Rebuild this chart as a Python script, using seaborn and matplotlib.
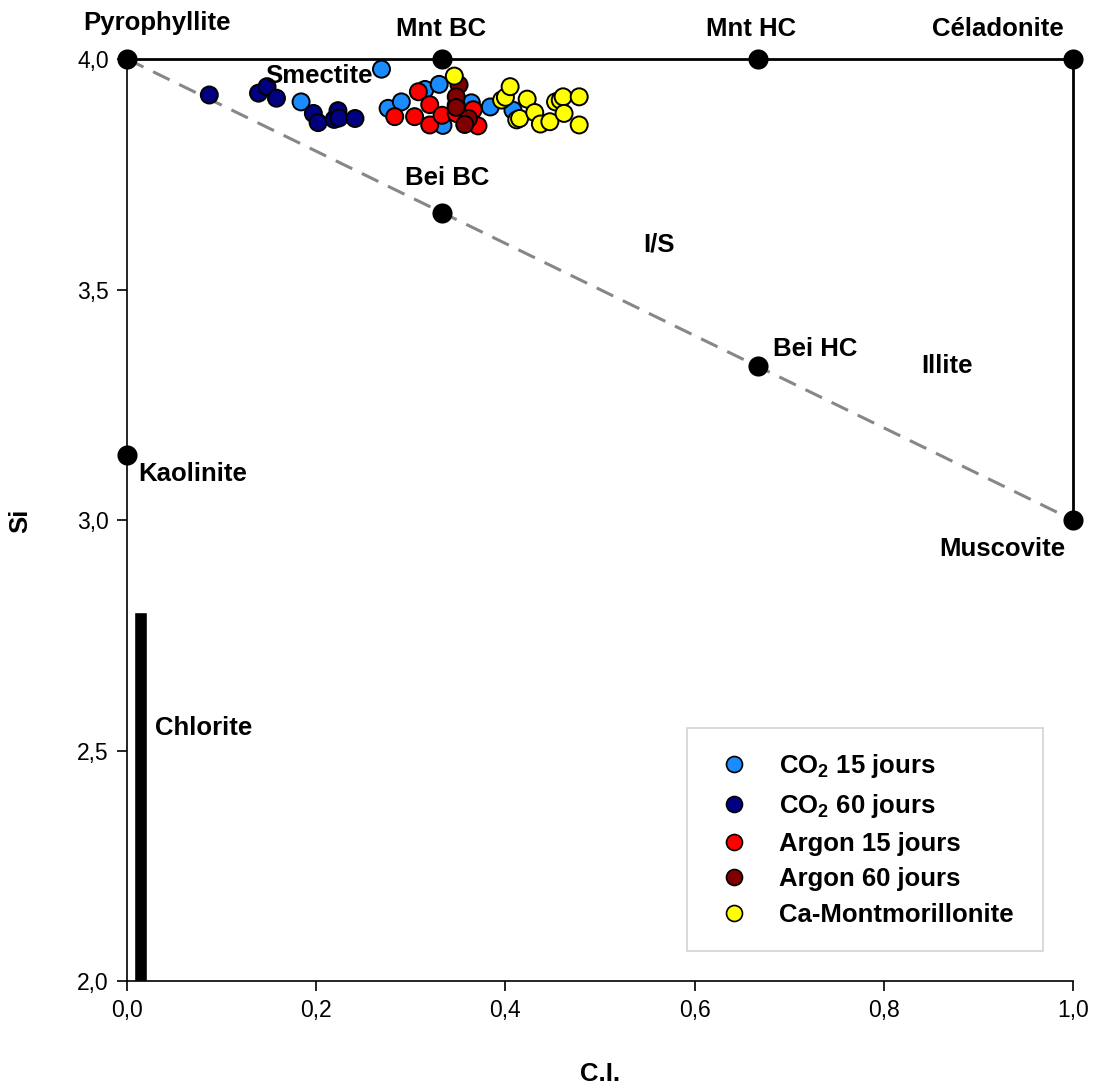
import numpy as np
import pandas as pd
import matplotlib
matplotlib.use('Agg')
import matplotlib.pyplot as plt
from matplotlib.lines import Line2D
import seaborn as sns

# points de référence (minéraux)
ref_ci = [0.0, 1/3, 2/3, 1.0, 1/3, 2/3, 1.0, 0.0]
ref_si = [4.0, 4.0, 4.0, 4.0, 11/3, 10/3, 3.0, 3.14]

# échantillons
co2_15_ci = [0.184, 0.269, 0.276, 0.290, 0.315, 0.330, 0.334, 0.364, 0.384, 0.408]
co2_15_si = [3.907, 3.978, 3.893, 3.907, 3.934, 3.945, 3.856, 3.905, 3.896, 3.889]

co2_60_ci = [0.087, 0.139, 0.148, 0.158, 0.197, 0.202, 0.219, 0.223, 0.224, 0.241]
co2_60_si = [3.922, 3.926, 3.940, 3.915, 3.882, 3.862, 3.869, 3.888, 3.872, 3.871]

ar_15_ci = [0.283, 0.304, 0.308, 0.320, 0.320, 0.333, 0.348, 0.348, 0.366, 0.371]
ar_15_si = [3.875, 3.875, 3.929, 3.901, 3.857, 3.878, 3.900, 3.882, 3.890, 3.855]

ar_60_ci = [0.351, 0.348, 0.348, 0.361, 0.357]
ar_60_si = [3.944, 3.918, 3.895, 3.871, 3.858]

camont_ci = [0.346, 0.396, 0.400, 0.405, 0.412, 0.415, 0.423, 0.431, 0.437,
             0.447, 0.453, 0.458, 0.461, 0.462, 0.478, 0.478]
camont_si = [3.963, 3.911, 3.917, 3.940, 3.868, 3.871, 3.913, 3.884, 3.859,
             3.864, 3.907, 3.911, 3.918, 3.882, 3.918, 3.857]

groupes = ['CO2 15 jours', 'CO2 60 jours', 'Argon 15 jours', 'Argon 60 jours', 'Ca-Montmorillonite']
legendes = [r'CO$_\mathbf{2}$ 15 jours', r'CO$_\mathbf{2}$ 60 jours',
            'Argon 15 jours', 'Argon 60 jours', 'Ca-Montmorillonite']
couleurs = ['#1a8cff', '#000080', '#ff0000', '#800000', '#ffff00']

# étiquettes (texte, x, y, alignement)
noms = ['Pyrophyllite', 'Mnt BC', 'Mnt HC', 'Céladonite', 'Smectite', 'Bei BC', 'I/S',
        'Bei HC', 'Illite', 'Kaolinite', 'Muscovite', 'Chlorite']
noms_x = [-0.0465, 0.332, 0.660, 0.921, 0.146, 0.294, 0.5455, 0.683, 0.840, 0.0116, 0.859, 0.0296]
noms_y = [4.064, 4.051, 4.051, 4.051, 3.947, 3.727, 3.582, 3.356, 3.319, 3.085, 2.922, 2.534]
noms_ha = ['left', 'center', 'center', 'center', 'left', 'left', 'left', 'left', 'left', 'left', 'left', 'left']

sns.set_style('ticks')
plt.rcParams['font.family'] = ['Liberation Sans', 'DejaVu Sans']
plt.rcParams['mathtext.fontset'] = 'custom'
plt.rcParams['mathtext.rm'] = 'Liberation Sans'
plt.rcParams['mathtext.bf'] = 'Liberation Sans:bold'
plt.rcParams['text.color'] = 'black'
plt.rcParams['axes.labelcolor'] = 'black'
plt.rcParams['xtick.color'] = 'black'
plt.rcParams['ytick.color'] = 'black'

df = pd.concat([
    pd.DataFrame({'ci': co2_15_ci, 'si': co2_15_si, 'groupe': groupes[0]}),
    pd.DataFrame({'ci': co2_60_ci, 'si': co2_60_si, 'groupe': groupes[1]}),
    pd.DataFrame({'ci': ar_15_ci, 'si': ar_15_si, 'groupe': groupes[2]}),
    pd.DataFrame({'ci': ar_60_ci, 'si': ar_60_si, 'groupe': groupes[3]}),
    pd.DataFrame({'ci': camont_ci, 'si': camont_si, 'groupe': groupes[4]}),
], ignore_index=True)

fig = plt.figure(figsize=(10.94, 10.91), dpi=100)
ax = fig.add_axes([0.1161, 0.1008, 0.8647, 0.8451])

# cadre supérieur et droit + ligne pointillée
ax.plot([0, 1], [4, 4], color='black', lw=2, zorder=2, clip_on=False)
ax.plot([1, 1], [4, 3], color='black', lw=2, zorder=2, clip_on=False)
ax.plot([0, 1], [4, 3], color='#878787', lw=2.2, ls=(0, (6, 3.5)), zorder=1)

# chlorite
ax.bar([0.014], [0.8], bottom=2.0, width=0.014, color='black', zorder=2)

sns.scatterplot(x=ref_ci, y=ref_si, color='black', s=210, edgecolor='black',
                linewidth=0, ax=ax, zorder=4, clip_on=False)

sns.scatterplot(data=df, x='ci', y='si', hue='groupe', palette=couleurs, hue_order=groupes,
                s=150, edgecolor='black', linewidth=1.4, legend=False, ax=ax, zorder=3)

for t, x, y, h in zip(noms, noms_x, noms_y, noms_ha):
    ax.text(x, y, t, ha=h, va='baseline', fontsize=18.5, fontweight='bold', zorder=5)

ax.set_xlim(0, 1)
ax.set_ylim(2, 4)
ax.set_xticks([0, 0.2, 0.4, 0.6, 0.8, 1.0])
ax.set_xticklabels(['0,0', '0,2', '0,4', '0,6', '0,8', '1,0'])
ax.set_yticks([2.0, 2.5, 3.0, 3.5, 4.0])
ax.set_yticklabels(['2,0', '2,5', '3,0', '3,5', '4,0'])
ax.tick_params(direction='out', length=7, width=1.2, labelsize=16.5, pad=6, color='black')
for s in ['top', 'right']:
    ax.spines[s].set_visible(False)
for s in ['left', 'bottom']:
    ax.spines[s].set_linewidth(1.2)
    ax.spines[s].set_color('black')

ax.set_xlabel('C.I.', fontsize=18.5, fontweight='bold')
ax.set_ylabel('Si', fontsize=18.5, fontweight='bold')
ax.xaxis.set_label_coords(0.5, -0.0879)
ax.yaxis.set_label_coords(-0.1004, 0.499)

poignees = [Line2D([], [], ls='none', marker='o', markersize=11.5, markerfacecolor=c,
                   markeredgecolor='black', markeredgewidth=1.2) for c in couleurs]
leg = ax.legend(poignees, legendes, loc='upper left', bbox_to_anchor=(0.592, 0.0358, 0.376, 0.2386),
                mode='expand', prop={'size': 18.5, 'weight': 'bold'}, frameon=True, fancybox=False,
                borderpad=0.95, labelspacing=0.45, handlelength=1.73, handletextpad=0.91,
                borderaxespad=0)
leg.get_frame().set_edgecolor('#c8c8c8')
leg.get_frame().set_linewidth(1.2)

fig.savefig('out.png', dpi=100)
